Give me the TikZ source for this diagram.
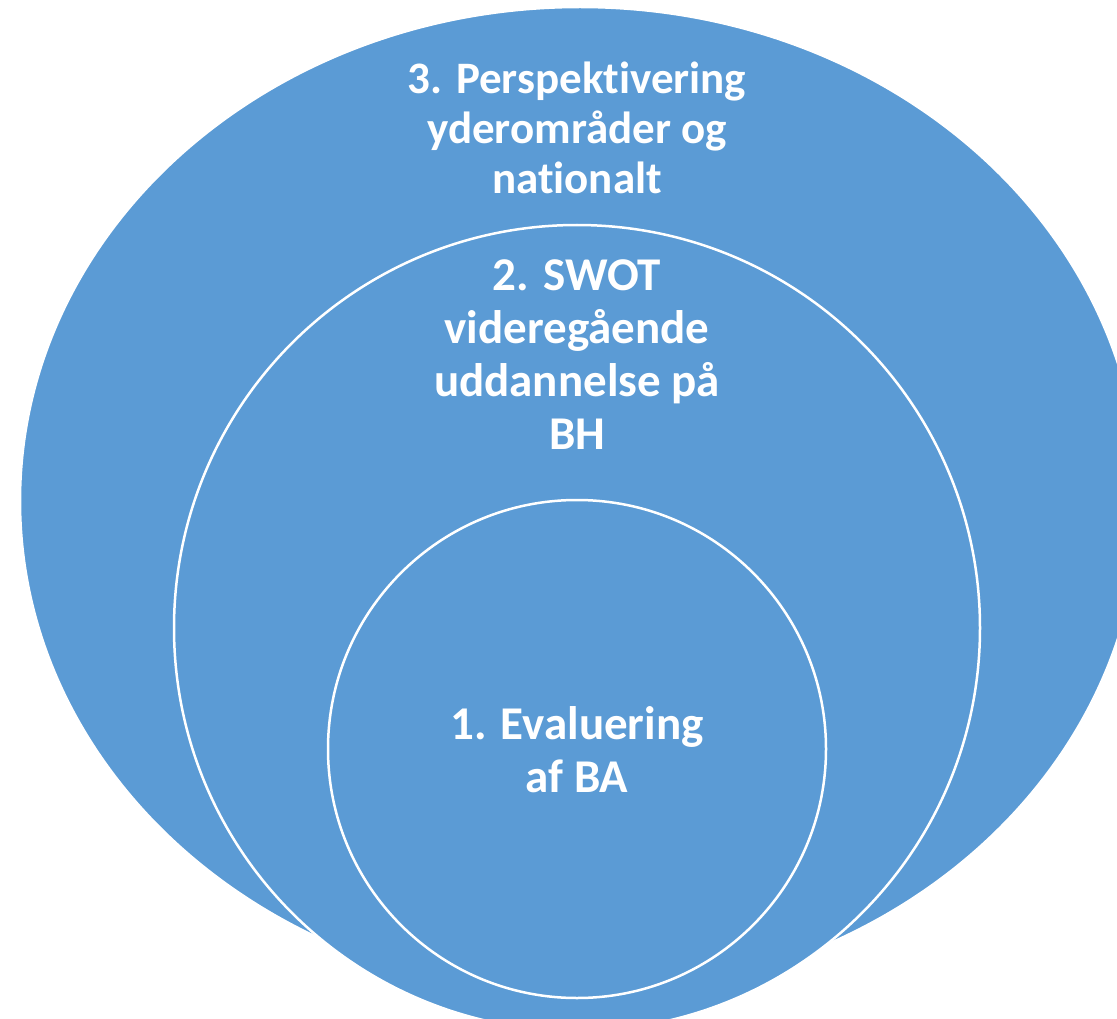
\documentclass[tikz,border=0pt]{standalone}
\usepackage{fontspec}
\setmainfont[Ligatures=NoCommon]{Carlito}
\definecolor{ringblue}{HTML}{5B9BD5}

\begin{document}
\begin{tikzpicture}[x=1pt, y=-1pt,
    ring/.style={fill=ringblue, draw=white, line width=2.5pt},
    ringtext/.style={text=white, align=center, font=\bfseries\fontsize{47}{53}\selectfont}]

    \useasboundingbox (0,0) rectangle (1117,1019);
    \clip (0,0) rectangle (1117,1019);

    % Circles
    \filldraw[ring] (580,501) ellipse [x radius=560pt, y radius=494pt];
    \filldraw[ring] (577,628) circle [radius=403pt];
    \filldraw[ring] (577,749) circle [radius=249pt];

    % Labels
    \node (outer) [ringtext, font=\bfseries\fontsize{45}{50}\selectfont] at (577,128)
          {3. Perspektivering\\yderområder og\\nationalt};
    \node (middle) [ringtext] at (577,355)
          {2. SWOT\\videregående\\uddannelse på\\BH};
    \node (inner) [ringtext] at (577,750)
          {1. Evaluering\\af BA};

\end{tikzpicture}
\end{document}
